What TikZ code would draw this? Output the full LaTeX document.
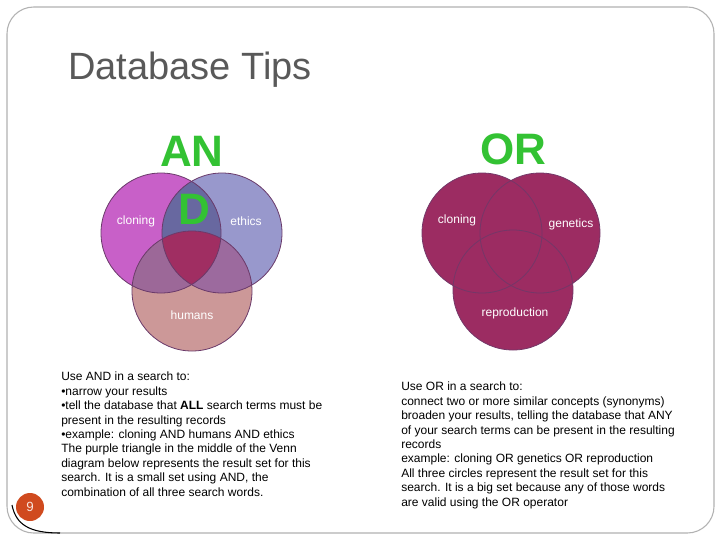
\documentclass[tikz,border=0pt]{standalone}
\usepackage{fontspec}
\setmainfont{Liberation Sans}
\begin{document}
\begin{tikzpicture}[x=0.75pt,y=-0.75pt,
  body/.style={anchor=north west,align=left,font=\fontsize{9}{10.8}\selectfont,inner sep=0pt},
  lbl/.style={white,font=\fontsize{9}{10}\selectfont}]
\definecolor{grn}{HTML}{33C233}
\definecolor{mag}{HTML}{C860C8}
\definecolor{eth}{HTML}{9898CC}
\definecolor{hum}{HTML}{CC9898}
\definecolor{ce}{HTML}{6868A0}
\definecolor{ch}{HTML}{9C6898}
\definecolor{eh}{HTML}{9C6A9E}
\definecolor{ctr}{HTML}{A02E62}
\definecolor{orc}{HTML}{9C2C62}
\definecolor{edge}{HTML}{6A3A6A}
\useasboundingbox (0,0) rectangle (720,540);
\fill[white] (0,0) rectangle (720,540);
\draw[gray!60,line width=0.8pt,rounded corners=20pt] (7,7) rectangle (714,533);
\draw[black,line width=0.8pt] (12,505) .. controls (16,525) and (30,533) .. (60,533);
\node[anchor=west,inner sep=0pt,text=black!65,font=\fontsize{28.5}{32}\selectfont] (title) at (68,70) {Database Tips};
% AND venn
\coordinate (c1) at (161,233); \coordinate (c2) at (222,233); \coordinate (c3) at (192,291);
\fill[mag] (c1) circle (60);
\fill[eth] (c2) circle (60);
\fill[hum] (c3) circle (60);
\begin{scope}\clip (c1) circle (60); \fill[ce] (c2) circle (60); \fill[ch] (c3) circle (60);\end{scope}
\begin{scope}\clip (c2) circle (60); \fill[eh] (c3) circle (60);
  \clip (c1) circle (60); \fill[ctr] (c3) circle (60);\end{scope}
\foreach \c in {c1,c2,c3} \draw[edge,line width=0.6pt] (\c) circle (60);
\node[lbl] (l1) at (136,221) {cloning};
\node[lbl] (l2) at (246,221) {ethics};
\node[lbl] (l3) at (192,315) {humans};
\node[text=grn,font=\fontsize{33}{36}\selectfont\bfseries] (an) at (192,151) {AN};
\node[text=grn,font=\fontsize{33}{36}\selectfont\bfseries] (d) at (194,209) {D};
% OR venn
\coordinate (o1) at (482,233); \coordinate (o2) at (540,233); \coordinate (o3) at (513,290);
\foreach \c in {o1,o2,o3} \fill[orc] (\c) circle (60);
\foreach \c in {o1,o2,o3} \draw[edge!80!orc,line width=0.6pt] (\c) circle (60);
\node[lbl] (r1) at (457,220) {cloning};
\node[lbl] (r2) at (571,224) {genetics};
\node[lbl] (r3) at (515,313) {reproduction};
\node[text=grn,font=\fontsize{33}{36}\selectfont\bfseries] (or) at (513,149) {OR};
% texts
\node[body] (tl) at (61,372) {Use AND in a search to:\\
•narrow your results\\
•tell the database that \textbf{ALL} search terms must be\\
present in the resulting records\\
•example: cloning AND humans AND ethics\\
The purple triangle in the middle of the Venn\\
diagram below represents the result set for this\\
search. It is a small set using AND, the\\
combination of all three search words.};
\node[body] (tr) at (401,382) {Use OR in a search to:\\
connect two or more similar concepts (synonyms)\\
broaden your results, telling the database that ANY\\
of your search terms can be present in the resulting\\
records\\
example: cloning OR genetics OR reproduction\\
All three circles represent the result set for this\\
search. It is a big set because any of those words\\
are valid using the OR operator};
\definecolor{pg}{HTML}{D04A1E}
\fill[pg] (30,507) circle (14);
\node[white!85!pg,font=\fontsize{10}{12}\selectfont] (num) at (30,507) {9};
\end{tikzpicture}
\end{document}
